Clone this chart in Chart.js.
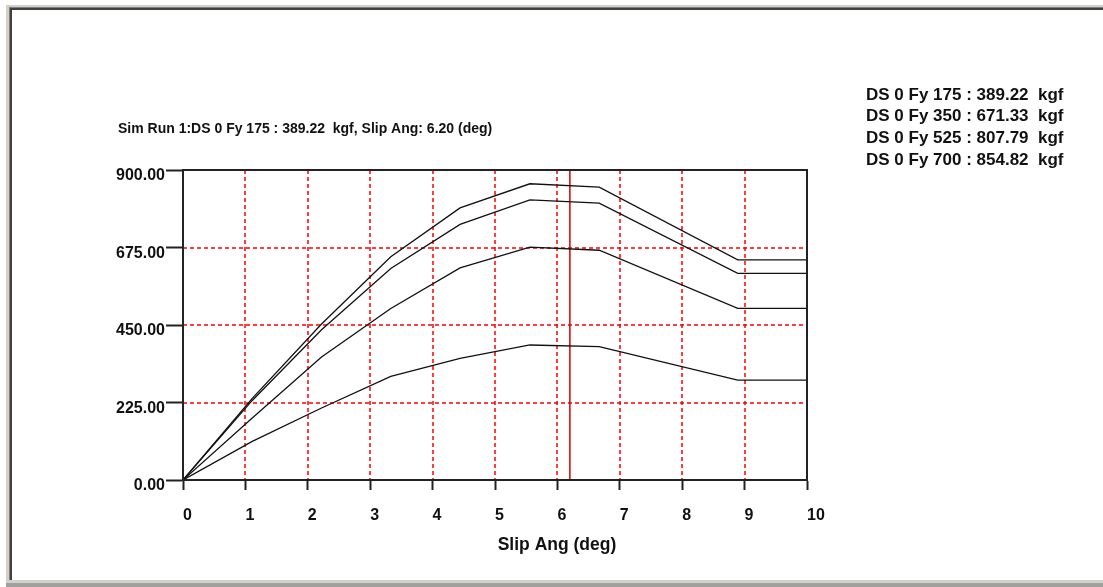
<!DOCTYPE html>
<html>
<head>
<meta charset="utf-8">
<script src="https://cdn.jsdelivr.net/npm/chart.js@4/dist/chart.umd.min.js"></script>
<style>
  html, body { margin: 0; padding: 0; background: #fff; }
  canvas { display: block; }
</style>
</head>
<body>
<canvas id="slip-chart" width="1103" height="587"></canvas>
<script>
// slip angle (deg) and lateral force (kgf)
const slipAngles = [0, 1.11, 2.22, 3.33, 4.44, 5.56, 6.67, 8.89, 10];
const fy175 = [0, 112, 209, 301, 353, 392, 387, 290, 290];
const fy350 = [0, 180, 357, 498, 616, 676, 667, 498, 498];
const fy525 = [0, 231, 436, 614, 742, 813, 804, 600, 600];
const fy700 = [0, 237, 453, 648, 790, 860, 850, 639, 639];
const seriesNames = ['DS 0 Fy 175', 'DS 0 Fy 350', 'DS 0 Fy 525', 'DS 0 Fy 700'];
const forceAtMarker = [389.22, 671.33, 807.79, 854.82];
const markerSlip = 6.20;
const xMax = 10;
const yMax = 900;
const yStep = 225;

const FONT = "'Liberation Sans', Arial, sans-serif";

const toPoints = ys => ys.map((y, i) => ({ x: slipAngles[i], y: y }));

const curve = (name, ys) => ({
  label: name,
  data: toPoints(ys),
  borderColor: '#111',
  borderWidth: 1.3,
  pointRadius: 0,
  tension: 0,
  fill: false
});

const frame = {
  id: 'frame',
  beforeDraw(chart) {
    const c = chart.ctx;
    const w = chart.width, h = chart.height;
    c.save();
    c.fillStyle = '#fff';
    c.fillRect(0, 0, w, h);
    // window edges
    c.fillStyle = '#d4d0c8';
    c.fillRect(6, 5, 3, h - 5);
    c.fillRect(6, 5, w - 6, 2);
    c.fillRect(6, 580, w - 6, 3);
    c.fillStyle = '#a0a0a0';
    c.fillRect(6, 583, w - 6, 4);
    c.fillStyle = '#808080';
    c.fillRect(9, 7, w - 9, 1);
    c.fillRect(9, 7, 1, 573);
    c.fillStyle = '#404040';
    c.fillRect(10, 8, w - 10, 2);
    c.fillRect(10, 8, 2, 572);
    c.restore();
  },
  beforeDatasetsDraw(chart) {
    // red dashed grid at the inner ticks of both scales
    const c = chart.ctx;
    const a = chart.chartArea;
    const xs = chart.scales.x, ys = chart.scales.y;
    c.save();
    c.strokeStyle = 'rgb(255,0,0)';
    c.lineWidth = 1.5;
    c.setLineDash([4, 3]);
    xs.ticks.forEach(t => {
      if (t.value <= xs.min || t.value >= xs.max) return;
      const px = Math.round(xs.getPixelForValue(t.value));
      c.beginPath();
      c.moveTo(px, a.top);
      c.lineTo(px, a.bottom);
      c.stroke();
    });
    ys.ticks.forEach(t => {
      if (t.value <= ys.min || t.value >= ys.max) return;
      const py = Math.round(ys.getPixelForValue(t.value));
      c.beginPath();
      c.moveTo(a.left, py);
      c.lineTo(a.right, py);
      c.stroke();
    });
    c.restore();
  },
  afterDraw(chart) {
    const c = chart.ctx;
    const a = chart.chartArea;
    c.save();
    c.strokeStyle = '#222';
    c.lineWidth = 2;
    c.strokeRect(a.left, a.top, a.right - a.left, a.bottom - a.top);

    c.fillStyle = '#111';
    c.textBaseline = 'middle';
    c.font = 'bold 14px ' + FONT;
    c.textAlign = 'left';
    c.fillText('Sim Run 1:' + seriesNames[0] + ' : ' + forceAtMarker[0].toFixed(2) +
      '  kgf, Slip Ang: ' + markerSlip.toFixed(2) + ' (deg)', 118, 129);

    c.font = 'bold 17px ' + FONT;
    seriesNames.forEach((n, i) => {
      c.fillText(n + ' : ' + forceAtMarker[i].toFixed(2) + '  kgf', 866, 95 + i * 21.7);
    });

    c.font = 'bold 17.5px ' + FONT;
    c.textAlign = 'center';
    c.fillText('Slip Ang (deg)', 557, 545);
    c.restore();
  }
};

const ctx = document.getElementById('slip-chart').getContext('2d');
const slipChart = new Chart(ctx, {
  type: 'line',
  data: {
    datasets: [
      curve(seriesNames[0], fy175),
      curve(seriesNames[1], fy350),
      curve(seriesNames[2], fy525),
      curve(seriesNames[3], fy700),
      {
        label: 'marker',
        data: [{ x: markerSlip, y: 0 }, { x: markerSlip, y: yMax }],
        borderColor: '#d00000',
        borderWidth: 1.5,
        pointRadius: 0
      }
    ]
  },
  options: {
    responsive: false,
    animation: false,
    devicePixelRatio: 1,
    layout: { padding: { left: 0, right: 296, top: 170, bottom: 0 } },
    plugins: {
      legend: { display: false },
      title: { display: false },
      tooltip: { enabled: false }
    },
    scales: {
      x: {
        type: 'linear',
        min: 0,
        max: xMax,
        afterFit: s => { s.height = 107; },
        ticks: {
          stepSize: 1,
          align: 'start',
          padding: 16,
          color: '#111',
          font: { family: FONT, size: 16, weight: 'bold' }
        },
        grid: {
          drawOnChartArea: false,
          tickLength: 10,
          tickColor: '#222',
          tickWidth: 2
        },
        border: { color: '#222', width: 2 }
      },
      y: {
        min: 0,
        max: yMax,
        afterFit: s => { s.width = 183; },
        ticks: {
          stepSize: yStep,
          padding: 1,
          labelOffset: 6,
          color: '#111',
          font: { family: FONT, size: 16, weight: 'bold' },
          callback: v => v.toFixed(2)
        },
        grid: {
          drawOnChartArea: false,
          tickLength: 17,
          tickColor: '#222',
          tickWidth: 2
        },
        border: { color: '#222', width: 2 }
      }
    }
  },
  plugins: [frame]
});
</script>
</body>
</html>
